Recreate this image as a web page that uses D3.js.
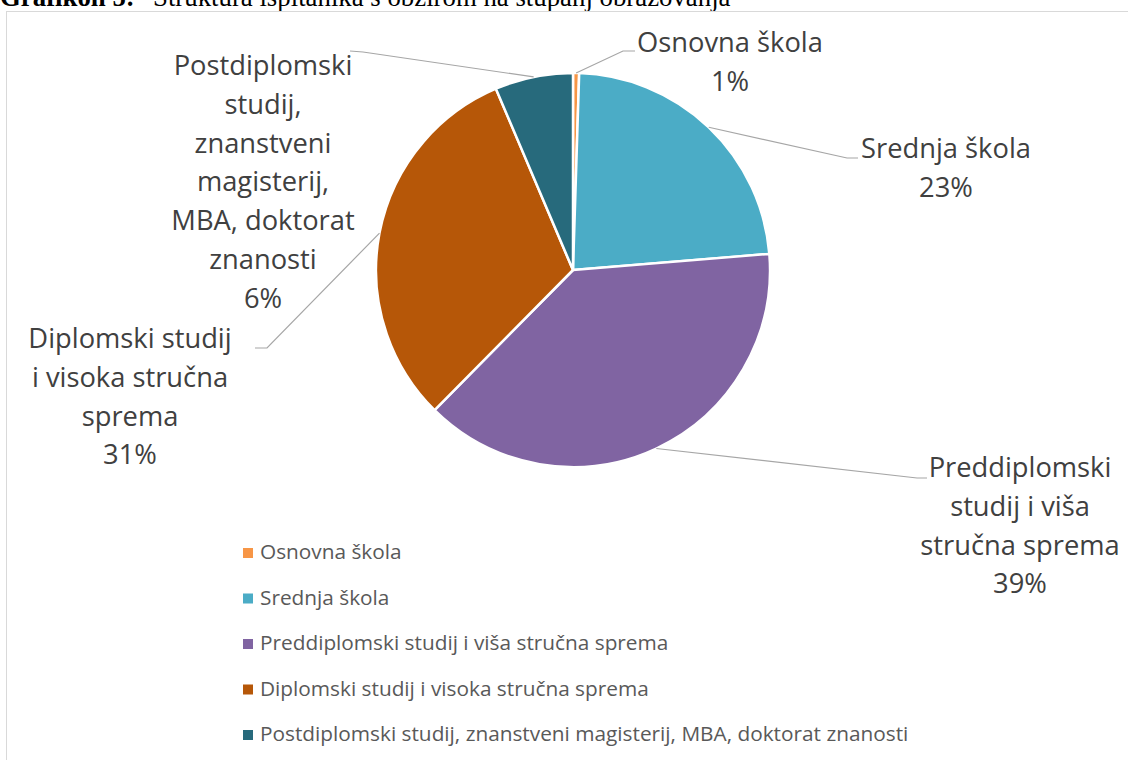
<!DOCTYPE html>
<html>
<head>
<meta charset="utf-8">
<script src="https://cdn.jsdelivr.net/npm/d3@7"></script>
<style>
  html, body { margin: 0; padding: 0; background: #fff; }
  svg { display: block; }
</style>
</head>
<body>
<svg id="chart" width="1128" height="760"></svg>
<script>
// categories, as in the legend
var categories = [
  'Osnovna škola',
  'Srednja škola',
  'Preddiplomski studij i viša stručna sprema',
  'Diplomski studij i visoka stručna sprema',
  'Postdiplomski studij, znanstveni magisterij, MBA, doktorat znanosti'
];

// share of respondents, percent
var shares = [0.5, 23.2, 38.7, 31.2, 6.4];

// how Excel wrapped the category names in the data labels
var labelLines = [
  ['Osnovna škola'],
  ['Srednja škola'],
  ['Preddiplomski', 'studij i viša', 'stručna sprema'],
  ['Diplomski studij', 'i visoka stručna', 'sprema'],
  ['Postdiplomski', 'studij,', 'znanstveni', 'magisterij,', 'MBA, doktorat', 'znanosti']
];

var colors = ['#F79646', '#4BACC6', '#8064A2', '#B65708', '#276A7C'];

var title = 'Struktura ispitanika s obzirom na stupanj obrazovanja';

//============================================================
// layout
//------------------------------------------------------------
var cx = 573, cy = 270, radius = 197;
var labelSize = 27.3, lineHeight = 38.8;

// data label placement relative to the pie centre:
// tx = centre of the text block, ty = baseline of its first line,
// stub/elbow = the two bends of the leader line
var labelLayout = [
  { tx: 157, ty: -218, elbow: [50, -219], stub: [62, -219] },
  { tx: 373, ty: -112, elbow: [274, -112], stub: [285, -112] },
  { tx: 447, ty: 207, elbow: [344, 208], stub: [354, 208] },
  { tx: -443, ty: 78, elbow: [-306, 78], stub: [-318, 78] },
  { tx: -310, ty: -195, elbow: [-210, -218], stub: [-223, -219] }
];

var svg = d3.select('#chart');

// caption of the document, cut off by the page top
var cap = svg.append('text')
  .attr('y', 6)
  .attr('font-family', '"Liberation Serif", "Times New Roman", serif')
  .attr('font-size', 26.8)
  .attr('fill', '#000');
cap.append('tspan').attr('x', 0).attr('font-weight', 'bold').text('Grafikon 5:');
cap.append('tspan').attr('x', 153).text(title);

// chart area border
svg.append('rect')
  .attr('x', 6.5)
  .attr('y', 11.5)
  .attr('width', 1140)
  .attr('height', 760)
  .attr('fill', 'none')
  .attr('stroke', '#D9D9D9')
  .attr('stroke-width', 1);

var pie = d3.pie().sort(null).value(function(d) { return d; });
var arcs = pie(shares);

var arc = d3.arc().innerRadius(0).outerRadius(radius);

var g = svg.append('g').attr('transform', 'translate(' + cx + ',' + cy + ')');

g.selectAll('path.slice')
  .data(arcs)
  .enter()
  .append('path')
  .attr('class', 'slice')
  .attr('d', arc)
  .attr('fill', function(d, i) { return colors[i]; })
  .attr('stroke', '#fff')
  .attr('stroke-width', 2.5)
  .attr('stroke-linejoin', 'round');

// leader lines start on the rim at the slice middle
function rimPoint(d) {
  var a = (d.startAngle + d.endAngle) / 2;
  return [radius * Math.sin(a), -radius * Math.cos(a)];
}

g.selectAll('polyline.leader')
  .data(arcs)
  .enter()
  .append('polyline')
  .attr('class', 'leader')
  .attr('points', function(d, i) {
    var p = rimPoint(d), L = labelLayout[i];
    return [p, L.elbow, L.stub].map(function(q) { return q.join(','); }).join(' ');
  })
  .attr('fill', 'none')
  .attr('stroke', '#A6A6A6')
  .attr('stroke-width', 1.2);

var labels = g.selectAll('text.label')
  .data(arcs)
  .enter()
  .append('text')
  .attr('class', 'label')
  .attr('text-anchor', 'middle')
  .attr('font-family', '"Open Sans", sans-serif')
  .attr('font-size', labelSize)
  .attr('fill', '#404040');

labels.each(function(d, i) {
  var t = d3.select(this), L = labelLayout[i];
  var lines = labelLines[i].concat([Math.round(d.value) + '%']);
  lines.forEach(function(s, k) {
    t.append('tspan')
      .attr('x', L.tx)
      .attr('y', L.ty + k * lineHeight)
      .text(s);
  });
});

//============================================================
// legend
//------------------------------------------------------------
var legend = svg.append('g').attr('transform', 'translate(243,559)');

var item = legend.selectAll('g.item')
  .data(categories)
  .enter()
  .append('g')
  .attr('class', 'item')
  .attr('transform', function(d, i) { return 'translate(0,' + i * 45.5 + ')'; });

item.append('rect')
  .attr('x', 0)
  .attr('y', -11)
  .attr('width', 10)
  .attr('height', 10)
  .attr('fill', function(d, i) { return colors[i]; });

item.append('text')
  .attr('x', 17)
  .attr('y', 0)
  .attr('font-family', '"Open Sans", sans-serif')
  .attr('font-size', 20.8)
  .attr('fill', '#595959')
  .text(function(d) { return d; });
</script>
</body>
</html>
